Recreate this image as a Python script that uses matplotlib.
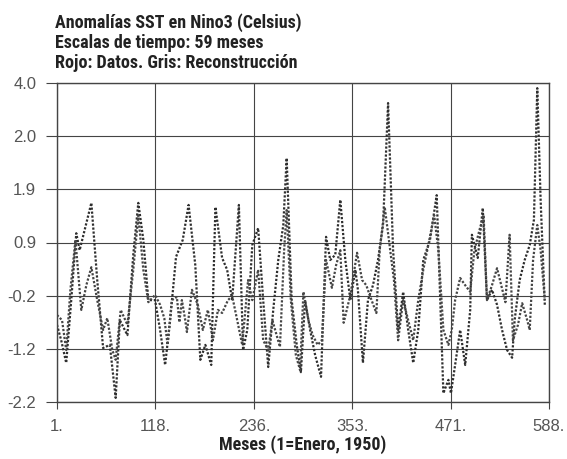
"""Anomalías SST en Nino3 — datos vs reconstrucción (escala 59 meses)."""
import numpy as np
import matplotlib
matplotlib.use("Agg")
import matplotlib.pyplot as plt

# --- datos ---
mes_datos = [1, 6, 12, 18, 24, 28, 42, 49, 56, 64, 71, 76, 85, 92, 98, 104, 110, 118,
             124, 130, 136, 143, 151, 158, 166, 172, 178, 185, 190, 198, 204, 210, 218,
             223, 228, 234, 241, 247, 253, 259, 265, 271, 275, 281, 287, 292, 297, 303,
             309, 316, 322, 327, 333, 339, 345, 351, 357, 360, 366, 372, 378, 384, 390,
             396, 402, 408, 414, 420, 426, 432, 438, 446, 454, 462, 468, 471, 476, 482,
             488, 494, 496, 503, 509, 514, 520, 526, 532, 538, 544, 547, 553, 559, 565,
             570, 574, 578, 583]
sst_datos = [-0.70, -1.00, -1.44, -0.22, 1.08, 0.75, 1.67, 0.17, -1.15, -1.09, -2.12, -0.61,
             -0.90, 0.66, 1.67, 0.95, -0.22, -0.22, -0.80, -1.48, -0.61, 0.62, 0.95, 1.63,
             0.46, -1.38, -1.09, -1.48, 1.59, 0.60, 0.37, -0.22, 1.63, -1.19, -0.80, 0.85,
             1.18, -0.22, -1.52, -0.41, 0.56, 1.24, 2.54, -0.22, -1.09, -1.62, -0.22, -0.80,
             -1.29, -1.71, 1.01, 0.56, 0.66, 1.73, 0.56, -0.22, 0.37, -0.02, -1.44, -0.22,
             0.07, 0.56, 1.24, 3.61, 0.75, -0.80, -0.06, -0.80, -1.44, -0.80, 0.56, 0.95,
             1.82, -2.03, -1.77, -2.03, -1.48, -0.80, -1.48, -0.41, 1.05, 0.60, 1.57, -0.22,
             -0.02, -0.31, -0.80, -1.19, -1.34, -0.61, 0.17, 0.56, 0.85, 1.34, 3.90, 1.73,
             -0.31]

mes_recon = [1, 7, 12, 17, 23, 30, 36, 42, 49, 56, 61, 67, 71, 77, 85, 92, 98, 104, 110,
             118, 124, 129, 133, 138, 144, 147, 150, 154, 156, 162, 169, 175, 181, 187, 193,
             198, 205, 210, 216, 222, 229, 234, 241, 247, 253, 258, 267, 272, 275, 280, 286,
             291, 295, 301, 306, 312, 317, 322, 329, 334, 339, 343, 351, 359, 365, 370, 374,
             382, 386, 392, 397, 403, 408, 414, 420, 426, 432, 438, 444, 451, 456, 462, 468,
             472, 476, 482, 488, 494, 499, 505, 510, 514, 520, 526, 531, 536, 541, 545, 551,
             556, 562, 565, 569, 574, 578, 583]
sst_recon = [-0.51, -0.61, -1.19, -0.02, 0.95, -0.41, 0.07, 0.42, -0.22, -0.80, -0.57, -1.19,
             -1.38, -0.41, -0.70, 0.37, 1.43, 0.37, -0.26, -0.12, -0.31, -0.57, -1.09, -0.22,
             -0.16, -0.65, -0.22, -0.61, -0.84, -0.02, -0.31, -0.80, -0.41, -1.00, -0.41,
             -0.47, -0.22, -0.14, -0.61, -1.09, 0.17, -0.22, 0.37, -1.00, -1.19, -0.61, -1.13,
             0.75, 1.53, -0.22, -1.29, -1.58, -0.06, -0.61, -0.90, -1.09, -1.00, 0.56, 0.02,
             0.46, 0.75, -0.66, -0.12, 0.70, 0.17, 0.07, -0.12, -0.47, 0.75, 1.59, 0.95, 0.17,
             -1.00, -0.22, -0.61, -1.00, -0.22, 0.37, 0.85, 1.43, 0.75, -0.80, -1.09, -0.80,
             -0.22, 0.21, 0.07, -0.06, 0.75, 1.14, 1.43, -0.22, 0.07, 0.40, 0.07, -0.26, 1.05,
             -1.00, -0.70, -0.28, -0.61, -0.80, 0.56, 1.24, 0.75, -0.22]

x_ticks = [1, 118, 236, 353, 471, 588]
x_labels = ["1.", "118.", "236.", "353.", "471.", "588."]
y_labels = ["-2.2", "-1.2", "-0.2", "0.9", "1.9", "2.0", "4.0"]

INK = "#444444"
TITLE_FONT = ["Roboto Condensed", "Roboto", "DejaVu Sans"]
TICK_FONT = ["Liberation Sans", "DejaVu Sans"]

fig = plt.figure(figsize=(5.67, 4.59), dpi=100)
ax = fig.add_axes([57 / 567, 57 / 459, 492 / 567, 319 / 459])

y_ticks = np.linspace(-2.2, 4.0, len(y_labels))
ax.set_xlim(1, 588)
ax.set_ylim(-2.2, 4.0)
ax.set_xticks(x_ticks, x_labels)
ax.set_yticks(y_ticks, y_labels)
ax.grid(True, color=INK, lw=0.8)
ax.set_axisbelow(True)
for s in ax.spines.values():
    s.set_color(INK)
    s.set_linewidth(1.0)
ax.tick_params(axis="y", direction="out", length=8, width=0.8, color=INK, pad=7,
               labelsize=12, labelcolor="#555555")
ax.tick_params(axis="x", direction="out", length=5, width=0.8, color=INK, pad=7,
               labelsize=12, labelcolor="#555555")
for lab in ax.get_xticklabels() + ax.get_yticklabels():
    lab.set_family(TICK_FONT)

ax.plot(mes_datos, sst_datos, color="#2e2e2e", lw=1.6, ls=(0, (1, 0.8)))
ax.plot(mes_recon, sst_recon, color="#454545", lw=1.6, ls=(0, (1, 0.8)))

titulo = ["Anomalías SST en Nino3 (Celsius)",
          "Escalas de tiempo: 59 meses",
          "Rojo: Datos. Gris: Reconstrucción"]
for i, t in enumerate(titulo):
    fig.text(55 / 567, 1 - (28 + 20 * i) / 459, t, family=TITLE_FONT, fontsize=13,
             weight="bold", color="#222222", va="baseline", ha="left")
fig.text(303 / 567, 1 - 450 / 459, "Meses (1=Enero, 1950)", family=TITLE_FONT,
         fontsize=13, weight="bold", color="#222222", va="baseline", ha="center")

fig.savefig("out.png", dpi=100)
